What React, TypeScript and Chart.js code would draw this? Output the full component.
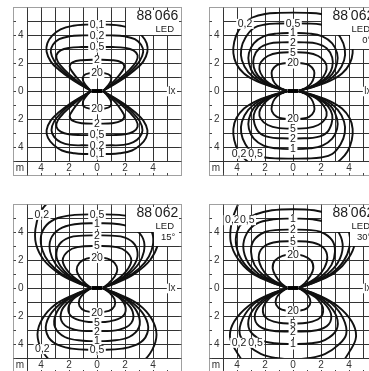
import React, { useEffect, useRef } from "react";
import { Chart, registerables } from "chart.js";

Chart.register(...registerables);

type Pt = [number, number];
type Label = [string, number, number];

const FONT = '"Liberation Sans", Arial, Helvetica, sans-serif';
const GRID_COLOR = "#333333";
const FRAME_COLOR = "#a0a0a0";
const CURVE_COLOR = "#111111";

// axis / grid values in metres
const AXIS_MIN = -6;
const AXIS_MAX = 6;
const GRID_VALUES = [-5, -4, -3, -2, -1, 0, 1, 2, 3, 4, 5];
const Y_TICK_VALUES = [4, 2, 0, -2, -4];
const X_TICK_VALUES = [-4, -2, 0, 2, 4];

// panel titles
const PANEL_CODES = ["88\u2009066", "88\u2009062", "88\u2009062", "88\u2009062"];
const PANEL_TYPE = ["LED", "LED", "LED", "LED"];
const PANEL_ANGLE = ["", "0°", "15°", "30°"];

// ---------- Panel 1 (88 066) : half-lobes (right half, foot -> apex) ----------
const P1_U_01: Pt[] = [[0.45, 0.02], [1.1, 0.4], [1.9, 0.9], [2.7, 1.5], [3.3, 2.1], [3.6, 2.8], [3.55, 3.4], [3.2, 3.95], [2.6, 4.4], [1.7, 4.66], [0.8, 4.74], [0, 4.75]];
const P1_U_02: Pt[] = [[0.45, 0.02], [1.05, 0.4], [1.8, 0.9], [2.5, 1.5], [3.05, 2.15], [3.3, 2.8], [3.15, 3.3], [2.7, 3.7], [2.0, 3.9], [1.0, 3.97], [0, 3.97]];
const P1_U_05: Pt[] = [[0.45, 0.02], [1.0, 0.4], [1.7, 0.95], [2.35, 1.55], [2.8, 2.1], [2.9, 2.55], [2.6, 2.9], [2.0, 3.08], [1.1, 3.14], [0, 3.14]];
const P1_U_2: Pt[] = [[0.45, 0.02], [0.9, 0.4], [1.35, 0.85], [1.75, 1.35], [1.95, 1.75], [1.75, 2.05], [1.1, 2.2], [0, 2.23]];
const P1_U_20: Pt[] = [[0.45, 0.02], [0.75, 0.35], [1.0, 0.75], [0.95, 1.1], [0.55, 1.27], [0, 1.3]];
const P1_L_01: Pt[] = [[0.45, -0.02], [1.1, -0.4], [1.9, -0.9], [2.7, -1.5], [3.3, -2.1], [3.6, -2.8], [3.5, -3.35], [3.1, -3.85], [2.5, -4.25], [1.6, -4.45], [0.8, -4.5], [0, -4.5]];
const P1_L_02: Pt[] = [[0.45, -0.02], [1.05, -0.4], [1.8, -0.9], [2.5, -1.5], [3.05, -2.15], [3.25, -2.8], [3.05, -3.3], [2.6, -3.65], [1.9, -3.85], [1.0, -3.88], [0, -3.88]];
const P1_L_05: Pt[] = [[0.45, -0.02], [1.0, -0.4], [1.7, -0.95], [2.35, -1.55], [2.8, -2.1], [2.9, -2.55], [2.6, -2.9], [2.0, -3.1], [1.1, -3.15], [0, -3.15]];
const P1_L_2: Pt[] = [[0.45, -0.02], [0.9, -0.4], [1.35, -0.85], [1.75, -1.4], [1.95, -1.8], [1.75, -2.12], [1.1, -2.3], [0, -2.33]];
const P1_L_20: Pt[] = [[0.45, -0.02], [0.75, -0.35], [1.0, -0.75], [0.95, -1.1], [0.55, -1.25], [0, -1.27]];
const P1_LABELS: Label[] = [
  ["0,1", 0, 4.74], ["0,2", 0, 3.97], ["0,5", 0, 3.14], ["2", 0, 2.23], ["20", 0, 1.3],
  ["20", 0, -1.27], ["2", 0, -2.33], ["0,5", 0, -3.15], ["0,2", 0, -3.88], ["0,1", 0, -4.5],
];

// ---------- Panel 2 (88 062, 0°) ----------
const P2_U_02: Pt[] = [[0.45, 0.02], [1.5, 0.3], [2.6, 0.7], [3.5, 1.25], [4.05, 1.95], [4.26, 2.7], [4.2, 3.5], [3.9, 4.3], [3.4, 4.9], [2.9, 5.25], [2.0, 5.5], [1.0, 5.58], [0, 5.6]];
const P2_U_05: Pt[] = [[0.45, 0.02], [1.4, 0.3], [2.4, 0.7], [3.2, 1.35], [3.65, 2.2], [3.7, 3.0], [3.4, 3.8], [2.8, 4.5], [2.0, 4.75], [1.0, 4.82], [0, 4.83]];
const P2_U_1: Pt[] = [[0.45, 0.02], [1.25, 0.28], [2.1, 0.65], [2.8, 1.2], [3.15, 2.0], [3.15, 2.7], [2.8, 3.4], [2.1, 3.9], [1.2, 4.1], [0, 4.14]];
const P2_U_2: Pt[] = [[0.45, 0.02], [1.15, 0.25], [1.9, 0.6], [2.5, 1.1], [2.8, 1.7], [2.8, 2.4], [2.4, 3.05], [1.7, 3.38], [0.8, 3.47], [0, 3.48]];
const P2_U_5: Pt[] = [[0.45, 0.02], [1.05, 0.22], [1.7, 0.55], [2.15, 1.0], [2.4, 1.55], [2.3, 2.05], [1.8, 2.5], [1.0, 2.73], [0, 2.77]];
const P2_U_20: Pt[] = [[0.45, 0.02], [0.95, 0.25], [1.3, 0.55], [1.5, 1.0], [1.5, 1.45], [1.15, 1.85], [0.6, 1.98], [0, 2.0]];
const P2_L_02: Pt[] = [[0.45, -0.02], [1.5, -0.3], [2.6, -0.7], [3.5, -1.25], [4.05, -1.95], [4.26, -2.7], [4.2, -3.5], [3.9, -4.3], [3.4, -4.9], [2.9, -5.25], [2.0, -5.5], [1.0, -5.58], [0, -5.6]];
const P2_L_05: Pt[] = [[0.45, -0.02], [1.4, -0.3], [2.4, -0.7], [3.2, -1.35], [3.65, -2.2], [3.7, -3.0], [3.4, -3.8], [2.8, -4.5], [2.0, -4.75], [1.0, -4.82], [0, -4.83]];
const P2_L_1: Pt[] = [[0.45, -0.02], [1.25, -0.28], [2.1, -0.65], [2.8, -1.2], [3.15, -2.0], [3.15, -2.7], [2.8, -3.4], [2.1, -3.9], [1.2, -4.1], [0, -4.15]];
const P2_L_2: Pt[] = [[0.45, -0.02], [1.15, -0.25], [1.9, -0.6], [2.5, -1.1], [2.8, -1.7], [2.75, -2.35], [2.4, -2.98], [1.7, -3.3], [0.8, -3.38], [0, -3.39]];
const P2_L_5: Pt[] = [[0.45, -0.02], [1.05, -0.22], [1.7, -0.55], [2.15, -1.0], [2.4, -1.5], [2.3, -2.0], [1.8, -2.43], [1.0, -2.65], [0, -2.68]];
const P2_L_20: Pt[] = [[0.45, -0.02], [0.95, -0.25], [1.3, -0.55], [1.5, -1.0], [1.5, -1.45], [1.15, -1.85], [0.6, -1.98], [0, -2.0]];
const P2_LABELS: Label[] = [
  ["0,2", -3.43, 4.83], ["0,5", 0, 4.83], ["1", 0, 4.14], ["2", 0, 3.48], ["5", 0, 2.77], ["20", 0, 2.0],
  ["20", 0, -2.0], ["5", 0, -2.68], ["2", 0, -3.39], ["1", 0, -4.15], ["0,2", -3.86, -4.45], ["0,5", -2.68, -4.45],
];

// ---------- Panel 3 (88 062, 15°) ----------
const P3_U_02: Pt[] = [[0.45, 0.02], [1.6, 0.45], [2.8, 1.1], [3.8, 2.0], [4.35, 3.1], [4.4, 4.2], [4.1, 5.3], [3.5, 6.1], [2.5, 6.6], [1.2, 6.9], [0, 7.0]];
const P3_U_05: Pt[] = [[0.45, 0.02], [1.4, 0.4], [2.5, 1.0], [3.4, 1.8], [3.9, 2.7], [4.0, 3.7], [3.6, 4.5], [2.8, 5.0], [1.6, 5.22], [0, 5.26]];
const P3_U_1: Pt[] = [[0.45, 0.02], [1.3, 0.4], [2.2, 0.95], [2.95, 1.7], [3.35, 2.6], [3.3, 3.5], [2.7, 4.2], [1.6, 4.55], [0, 4.62]];
const P3_U_2: Pt[] = [[0.45, 0.02], [1.2, 0.38], [2.0, 0.9], [2.6, 1.55], [2.9, 2.3], [2.7, 3.1], [2.0, 3.6], [1.0, 3.74], [0, 3.76]];
const P3_U_5: Pt[] = [[0.45, 0.02], [1.05, 0.35], [1.7, 0.8], [2.2, 1.35], [2.45, 2.0], [2.1, 2.6], [1.4, 2.92], [0, 3.0]];
const P3_U_20: Pt[] = [[0.45, 0.02], [0.85, 0.35], [1.25, 0.8], [1.45, 1.3], [1.25, 1.8], [0.75, 2.1], [0, 2.18]];
const P3_L_02: Pt[] = [[0.45, -0.02], [1.7, -0.5], [3.0, -1.2], [3.9, -2.2], [4.25, -3.3], [3.95, -4.4], [3.2, -5.3], [2.0, -5.8], [0, -6.0]];
const P3_L_05: Pt[] = [[0.45, -0.02], [1.5, -0.45], [2.6, -1.1], [3.4, -2.0], [3.65, -3.0], [3.1, -3.9], [1.8, -4.33], [0, -4.4]];
const P3_L_1: Pt[] = [[0.45, -0.02], [1.35, -0.42], [2.3, -1.0], [2.95, -1.9], [3.0, -2.8], [2.3, -3.5], [1.0, -3.77], [0, -3.79]];
const P3_L_2: Pt[] = [[0.45, -0.02], [1.2, -0.4], [2.0, -0.95], [2.55, -1.7], [2.45, -2.5], [1.6, -2.97], [0, -3.08]];
const P3_L_5: Pt[] = [[0.45, -0.02], [1.05, -0.35], [1.7, -0.8], [2.05, -1.45], [1.8, -2.05], [0.9, -2.38], [0, -2.44]];
const P3_L_20: Pt[] = [[0.45, -0.02], [0.9, -0.35], [1.25, -0.8], [1.25, -1.3], [0.85, -1.63], [0, -1.73]];
const P3_LABELS: Label[] = [
  ["0,2", -3.95, 5.26], ["0,5", 0, 5.26], ["1", 0, 4.62], ["2", 0, 3.76], ["5", 0, 3.0], ["20", 0, 2.18],
  ["20", 0, -1.73], ["5", 0, -2.44], ["2", 0, -3.08], ["1", 0, -3.79], ["0,5", 0, -4.4], ["0,2", -3.9, -4.33],
];

// ---------- Panel 4 (88 062, 30°) ----------
const P4_U_02: Pt[] = [[0.45, 0.02], [1.7, 0.45], [3.0, 1.1], [3.95, 2.1], [4.45, 3.3], [4.4, 4.6], [4.0, 5.8], [3.6, 6.5], [2.5, 7.0], [1.2, 7.2], [0, 7.3]];
const P4_U_05: Pt[] = [[0.45, 0.02], [1.5, 0.4], [2.7, 1.0], [3.6, 1.9], [4.05, 3.0], [4.0, 4.0], [3.5, 4.8], [2.7, 5.25], [1.5, 5.55], [0, 5.63]];
const P4_U_1: Pt[] = [[0.45, 0.02], [1.35, 0.4], [2.4, 0.95], [3.2, 1.8], [3.55, 2.9], [3.3, 3.9], [2.6, 4.6], [1.4, 4.9], [0, 4.95]];
const P4_U_2: Pt[] = [[0.45, 0.02], [1.2, 0.38], [2.1, 0.9], [2.75, 1.65], [3.0, 2.6], [2.8, 3.4], [2.0, 4.0], [1.0, 4.15], [0, 4.17]];
const P4_U_5: Pt[] = [[0.45, 0.02], [1.05, 0.35], [1.75, 0.8], [2.25, 1.45], [2.45, 2.2], [2.2, 2.85], [1.4, 3.25], [0, 3.34]];
const P4_U_20: Pt[] = [[0.45, 0.02], [0.85, 0.35], [1.2, 0.8], [1.45, 1.4], [1.3, 1.95], [0.75, 2.3], [0, 2.39]];
const P4_L_02: Pt[] = [[0.45, -0.02], [1.8, -0.5], [3.2, -1.3], [4.2, -2.4], [4.5, -3.5], [4.0, -4.6], [3.3, -5.5], [2.2, -6.1], [0, -6.4]];
const P4_L_05: Pt[] = [[0.45, -0.02], [1.6, -0.45], [2.8, -1.15], [3.6, -2.2], [3.8, -3.3], [3.2, -4.1], [2.3, -4.7], [1.2, -5.0], [0, -5.1]];
const P4_L_1: Pt[] = [[0.45, -0.02], [1.45, -0.42], [2.4, -1.05], [3.1, -2.0], [3.1, -3.0], [2.3, -3.7], [1.3, -3.95], [0, -4.0]];
const P4_L_2: Pt[] = [[0.45, -0.02], [1.3, -0.4], [2.1, -0.95], [2.7, -1.8], [2.55, -2.6], [1.7, -3.02], [0, -3.1]];
const P4_L_5: Pt[] = [[0.45, -0.02], [1.1, -0.35], [1.75, -0.8], [2.15, -1.5], [1.9, -2.15], [1.0, -2.48], [0, -2.53]];
const P4_L_20: Pt[] = [[0.45, -0.02], [0.9, -0.35], [1.2, -0.75], [1.2, -1.2], [0.8, -1.55], [0, -1.63]];
const P4_LABELS: Label[] = [
  ["0,2", -4.33, 4.88], ["0,5", -3.27, 4.88], ["1", 0, 4.95], ["2", 0, 4.17], ["5", 0, 3.34], ["20", 0, 2.39],
  ["20", 0, -1.63], ["5", 0, -2.53], ["2", 0, -3.1], ["1", 0, -4.0], ["0,2", -3.86, -3.88], ["0,5", -2.68, -3.88],
];

const P1_CURVES = [P1_U_01, P1_U_02, P1_U_05, P1_U_2, P1_U_20, P1_L_01, P1_L_02, P1_L_05, P1_L_2, P1_L_20];
const P2_CURVES = [P2_U_02, P2_U_05, P2_U_1, P2_U_2, P2_U_5, P2_U_20, P2_L_02, P2_L_05, P2_L_1, P2_L_2, P2_L_5, P2_L_20];
const P3_CURVES = [P3_U_02, P3_U_05, P3_U_1, P3_U_2, P3_U_5, P3_U_20, P3_L_02, P3_L_05, P3_L_1, P3_L_2, P3_L_5, P3_L_20];
const P4_CURVES = [P4_U_02, P4_U_05, P4_U_1, P4_U_2, P4_U_5, P4_U_20, P4_L_02, P4_L_05, P4_L_1, P4_L_2, P4_L_5, P4_L_20];

// canvas placement of each panel (px)
const PANEL_LEFT = [10, 206, 10, 206];
const PANEL_TOP = [4, 4, 201, 201];
const CANVAS_SIZE = 174;
const PAD = 3;

// build a full lobe from its right half (mirrored about the vertical axis)
function lobe(half: Pt[]) {
  const left = half.map(([x, y]) => ({ x: -x, y }));
  const right = half.slice(0, -1).reverse().map(([x, y]) => ({ x, y }));
  return [...left, ...right];
}

function drawText(
  ctx: CanvasRenderingContext2D, s: string, x: number, y: number, size: number,
  align: CanvasTextAlign = "center", bg = false, baseline: CanvasTextBaseline = "middle", color = "#1a1a1a"
) {
  ctx.font = `${size}px ${FONT}`;
  ctx.textAlign = align;
  ctx.textBaseline = baseline;
  if (bg) {
    const w = ctx.measureText(s).width;
    const x0 = align === "center" ? x - w / 2 : align === "right" ? x - w : x;
    ctx.fillStyle = "#ffffff";
    ctx.fillRect(x0 - 1.5, y - size * 0.48, w + 3, size * 0.96);
  }
  ctx.fillStyle = color;
  ctx.fillText(s, x, y);
}

function makePlugin(idx: number, labels: Label[]) {
  return {
    id: "isolux" + idx,
    beforeDatasetsDraw(chart: any) {
      const ctx: CanvasRenderingContext2D = chart.ctx;
      const xs = chart.scales.x, ys = chart.scales.y;
      const X = (v: number) => Math.round(xs.getPixelForValue(v)) + 0.5;
      const Y = (v: number) => Math.round(ys.getPixelForValue(v)) + 0.5;
      ctx.save();
      ctx.fillStyle = "#fff";
      ctx.fillRect(X(AXIS_MIN), Y(AXIS_MAX), X(AXIS_MAX) - X(AXIS_MIN), Y(AXIS_MIN) - Y(AXIS_MAX));
      ctx.strokeStyle = GRID_COLOR;
      ctx.lineWidth = 1;
      ctx.beginPath();
      for (const v of GRID_VALUES) {
        ctx.moveTo(X(v), Y(-5));
        ctx.lineTo(X(v), Y(AXIS_MAX));
        ctx.moveTo(X(-5), Y(v));
        ctx.lineTo(X(AXIS_MAX), Y(v));
      }
      ctx.stroke();
      ctx.restore();
    },
    afterDatasetsDraw(chart: any) {
      const ctx: CanvasRenderingContext2D = chart.ctx;
      const xs = chart.scales.x, ys = chart.scales.y;
      const X = (v: number) => Math.round(xs.getPixelForValue(v)) + 0.5;
      const Y = (v: number) => Math.round(ys.getPixelForValue(v)) + 0.5;
      ctx.save();
      // white masks: left label column, bottom "m" row, title box
      ctx.fillStyle = "#fff";
      ctx.fillRect(X(AXIS_MIN), Y(AXIS_MAX), X(-5) - 0.5 - X(AXIS_MIN), Y(AXIS_MIN) - Y(AXIS_MAX));
      ctx.fillRect(X(AXIS_MIN), Y(-5) + 0.5, X(AXIS_MAX) - X(AXIS_MIN), Y(AXIS_MIN) - Y(-5) - 0.5);
      ctx.fillRect(X(2) + 0.5, Y(AXIS_MAX), X(AXIS_MAX) - X(2) - 0.5, Y(4) - 0.5 - Y(AXIS_MAX));
      if (PANEL_ANGLE[idx]) {
        ctx.fillRect(X(4) + 0.5, Y(4) - 0.5, X(AXIS_MAX) - X(4) - 0.5, Y(3) - Y(4));
      }
      // full-length separators
      ctx.strokeStyle = GRID_COLOR;
      ctx.lineWidth = 1;
      ctx.beginPath();
      ctx.moveTo(X(-5), Y(AXIS_MIN));
      ctx.lineTo(X(-5), Y(AXIS_MAX));
      ctx.moveTo(X(AXIS_MIN), Y(-5));
      ctx.lineTo(X(AXIS_MAX), Y(-5));
      ctx.stroke();
      // frame
      ctx.strokeStyle = FRAME_COLOR;
      ctx.strokeRect(X(AXIS_MIN), Y(AXIS_MAX), X(AXIS_MAX) - X(AXIS_MIN), Y(AXIS_MIN) - Y(AXIS_MAX));
      // small ticks on the frame
      ctx.strokeStyle = "#444";
      ctx.beginPath();
      for (const v of GRID_VALUES) {
        ctx.moveTo(X(AXIS_MIN), Y(v));
        ctx.lineTo(X(AXIS_MIN) + 2.5, Y(v));
        ctx.moveTo(X(AXIS_MAX) - 2.5, Y(v));
        ctx.lineTo(X(AXIS_MAX), Y(v));
        ctx.moveTo(X(v), Y(AXIS_MAX));
        ctx.lineTo(X(v), Y(AXIS_MAX) + 2.5);
        ctx.moveTo(X(v), Y(AXIS_MIN) - 2.5);
        ctx.lineTo(X(v), Y(AXIS_MIN));
      }
      ctx.stroke();
      // axis labels
      for (const v of Y_TICK_VALUES) drawText(ctx, String(Math.abs(v)), xs.getPixelForValue(-5.45), ys.getPixelForValue(v) + 0.5, 10, "center", false, "middle", "#333");
      drawText(ctx, "m", xs.getPixelForValue(-5.5), ys.getPixelForValue(-5.5) + 0.5, 10, "center", false, "middle", "#333");
      for (const v of X_TICK_VALUES) drawText(ctx, String(Math.abs(v)), xs.getPixelForValue(v), ys.getPixelForValue(-5.5) + 0.5, 10, "center", false, "middle", "#333");
      drawText(ctx, "lx", xs.getPixelForValue(5.35), ys.getPixelForValue(0) + 0.5, 10, "center", true, "middle", "#333");
      // curve value labels
      for (const [t, lx, ly] of labels) {
        drawText(ctx, t, xs.getPixelForValue(lx), ys.getPixelForValue(ly) + 0.5, 10.5, "center", true);
      }
      // luminaire
      ctx.fillStyle = "#000";
      const lx0 = xs.getPixelForValue(-0.4), lx1 = xs.getPixelForValue(0.4);
      const ly0 = ys.getPixelForValue(0.14), ly1 = ys.getPixelForValue(-0.14);
      ctx.fillRect(lx0, ly0, lx1 - lx0, ly1 - ly0);
      // title
      drawText(ctx, PANEL_CODES[idx], xs.getPixelForValue(5.8), ys.getPixelForValue(5.05), 14, "right", false, "alphabetic", "#1a1a1a");
      drawText(ctx, PANEL_TYPE[idx], xs.getPixelForValue(5.5), ys.getPixelForValue(4.22), 9.5, "right", false, "alphabetic", "#1a1a1a");
      if (PANEL_ANGLE[idx]) {
        drawText(ctx, PANEL_ANGLE[idx], xs.getPixelForValue(5.6), ys.getPixelForValue(3.42), 9.5, "right", false, "alphabetic", "#1a1a1a");
      }
      ctx.restore();
    },
  };
}

function IsoPanel({ idx, curves, labels }: { idx: number; curves: Pt[][]; labels: Label[] }) {
  const ref = useRef<HTMLCanvasElement>(null);
  useEffect(() => {
    const canvas = ref.current;
    if (!canvas) return;
    const chart = new Chart(canvas, {
      type: "scatter",
      data: {
        datasets: curves.map((c) => ({
          data: lobe(c),
          showLine: true,
          borderColor: CURVE_COLOR,
          borderWidth: 1.9,
          pointRadius: 0,
          fill: false,
          tension: 0.4,
        })),
      },
      options: {
        animation: false,
        responsive: false,
        maintainAspectRatio: false,
        devicePixelRatio: 1,
        events: [],
        layout: { padding: PAD },
        elements: { line: { capBezierPoints: false } as any, point: { radius: 0 } },
        plugins: { legend: { display: false }, tooltip: { enabled: false } },
        scales: {
          x: { type: "linear", min: AXIS_MIN, max: AXIS_MAX, display: false },
          y: { type: "linear", min: AXIS_MIN, max: AXIS_MAX, display: false },
        },
      } as any,
      plugins: [makePlugin(idx, labels) as any],
    });
    return () => chart.destroy();
  }, []);
  return (
    <canvas
      ref={ref}
      width={CANVAS_SIZE}
      height={CANVAS_SIZE}
      style={{ position: "absolute", left: PANEL_LEFT[idx], top: PANEL_TOP[idx], width: CANVAS_SIZE, height: CANVAS_SIZE }}
    />
  );
}

export default function App() {
  return (
    <div style={{ position: "fixed", left: 0, top: 0, width: 369, height: 371, overflow: "hidden", background: "#fff" }}>
      <IsoPanel idx={0} curves={P1_CURVES} labels={P1_LABELS} />
      <IsoPanel idx={1} curves={P2_CURVES} labels={P2_LABELS} />
      <IsoPanel idx={2} curves={P3_CURVES} labels={P3_LABELS} />
      <IsoPanel idx={3} curves={P4_CURVES} labels={P4_LABELS} />
    </div>
  );
}
